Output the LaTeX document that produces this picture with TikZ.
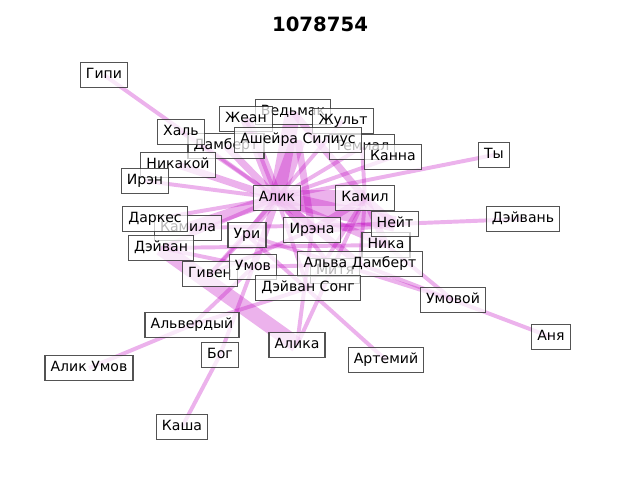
\documentclass[tikz,border=0pt]{standalone}
\usepackage{fontspec}
\setmainfont{DejaVu Sans}
\definecolor{aresta}{HTML}{BF00BF}
\definecolor{borda}{HTML}{404040}

\begin{document}
\begin{tikzpicture}[
    x=0.025cm, y=-0.025cm,
    % Rótulos dos vértices
    rot/.style={
        draw=borda, line width=0.8pt, fill=white, fill opacity=0.72,
        text opacity=1, draw opacity=0.9, font=\fontsize{10}{12}\selectfont,
        inner xsep=4pt, inner ysep=3.6pt, text height=7.6pt, text depth=2.4pt
    },
    % Arestas (espessura pelo peso)
    af/.style={draw=aresta, draw opacity=0.3, line width=2.8pt},
    am/.style={draw=aresta, draw opacity=0.3, line width=5pt},
    ag/.style={draw=aresta, draw opacity=0.3, line width=8pt},
    agg/.style={draw=aresta, draw opacity=0.3, line width=11pt}
]
\useasboundingbox (0,0) rectangle (640,480);

% ---- POSIÇÕES ----
\coordinate (gipi)     at (104, 75);
\coordinate (hal)      at (181,132);
\coordinate (zhean)    at (246,119);
\coordinate (vedmak)   at (293,112);
\coordinate (zhult)    at (343,121);
\coordinate (asheira)  at (298,140);
\coordinate (dambert)  at (226,146);
\coordinate (temial)   at (362,147);
\coordinate (kanna)    at (393,157);
\coordinate (nikakoi)  at (178,165);
\coordinate (iren)     at (145,181);
\coordinate (ty)       at (494,155);
\coordinate (alik)     at (277,198);
\coordinate (kamil)    at (365,198);
\coordinate (darkes)   at (155,219);
\coordinate (kamila)   at (188,228);
\coordinate (neit)     at (395,224);
\coordinate (deivanb)  at (523,219);
\coordinate (uri)      at (247,235);
\coordinate (irena)    at (312,230);
\coordinate (nika)     at (386,245);
\coordinate (deivan)   at (161,248);
\coordinate (given)    at (210,274);
\coordinate (umov)     at (253,267);
\coordinate (alva)     at (360,264);
\coordinate (mitya)    at (335,271);
\coordinate (dsong)    at (308,288);
\coordinate (umovoi)   at (453,300);
\coordinate (anya)     at (551,337);
\coordinate (alverd)   at (192,325);
\coordinate (bog)      at (220,355);
\coordinate (alika)    at (297,345);
\coordinate (artemii)  at (386,360);
\coordinate (alikumov) at ( 89,368);
\coordinate (kasha)    at (182,427);

% ---- ARESTAS ----
\foreach \a/\b in {gipi/alik, hal/alik, zhean/alik, zhult/alik, temial/alik,
    kanna/alik, ty/alik, iren/alik, darkes/alik, deivan/alik, given/alik,
    neit/deivanb, nika/umovoi, uri/umovoi, alva/umovoi, umovoi/anya,
    alika/irena, alika/kamil, artemii/uri, kasha/bog, bog/umov,
    alikumov/alverd, alverd/dsong, alverd/umov, temial/kamil, deivan/umov,
    given/uri, dsong/alik, mitya/alik, kamila/neit, deivan/nika,
    given/irena, umov/alva, alva/kamil, dsong/kamil}
    \draw[af] (\a) -- (\b);
\foreach \a/\b in {nikakoi/alik, dambert/alik, uri/alik, umov/alik,
    alva/alik, nika/alik, irena/kamil, irena/neit, kamil/neit, kamil/nika,
    asheira/irena, vedmak/kamil}
    \draw[am] (\a) -- (\b);
\foreach \a/\b in {kamila/alik, irena/alik, zhean/alik}
    \draw[ag] (\a) -- (\b);
\foreach \a/\b in {alika/deivan, kamil/alik, vedmak/alik, asheira/alik, neit/alik}
    \draw[agg] (\a) -- (\b);

% ---- RÓTULOS (os encobertos primeiro) ----
\node[rot] (l_vedmak)  at (vedmak)  {Ведьмак};
\node[rot] (l_temial)  at (temial)  {Темиал};
\node[rot] (l_kamila)  at (kamila)  {Камила};
\node[rot] (l_mitya)   at (mitya)   {Митя};
\node[rot] (l_dambert) at (dambert) {Дамберт};
\node[rot] (l_nika)    at (nika)    {Ника};
\node[rot] (l_given)   at (given)   {Гивен};

\node[rot] (l_gipi)     at (gipi)     {Гипи};
\node[rot] (l_hal)      at (hal)      {Халь};
\node[rot] (l_zhean)    at (zhean)    {Жеан};
\node[rot] (l_zhult)    at (zhult)    {Жульт};
\node[rot] (l_asheira)  at (asheira)  {Ашейра Силиус};
\node[rot] (l_kanna)    at (kanna)    {Канна};
\node[rot] (l_nikakoi)  at (nikakoi)  {Никакой};
\node[rot] (l_iren)     at (iren)     {Ирэн};
\node[rot] (l_ty)       at (ty)       {Ты};
\node[rot] (l_alik)     at (alik)     {Алик};
\node[rot] (l_kamil)    at (kamil)    {Камил};
\node[rot] (l_darkes)   at (darkes)   {Даркес};
\node[rot] (l_neit)     at (neit)     {Нейт};
\node[rot] (l_deivanb)  at (deivanb)  {Дэйвань};
\node[rot] (l_uri)      at (uri)      {Ури};
\node[rot] (l_irena)    at (irena)    {Ирэна};
\node[rot] (l_deivan)   at (deivan)   {Дэйван};
\node[rot] (l_umov)     at (umov)     {Умов};
\node[rot] (l_alva)     at (alva)     {Альва Дамберт};
\node[rot] (l_dsong)    at (dsong)    {Дэйван Сонг};
\node[rot] (l_umovoi)   at (umovoi)   {Умовой};
\node[rot] (l_anya)     at (anya)     {Аня};
\node[rot] (l_alverd)   at (alverd)   {Альвердый};
\node[rot] (l_bog)      at (bog)      {Бог};
\node[rot] (l_alika)    at (alika)    {Алика};
\node[rot] (l_artemii)  at (artemii)  {Артемий};
\node[rot] (l_alikumov) at (alikumov) {Алик Умов};
\node[rot] (l_kasha)    at (kasha)    {Каша};

% ---- TÍTULO ----
\node[font=\fontsize{14}{16}\selectfont\bfseries] (titulo) at (320,24) {1078754};

\end{tikzpicture}
\end{document}
